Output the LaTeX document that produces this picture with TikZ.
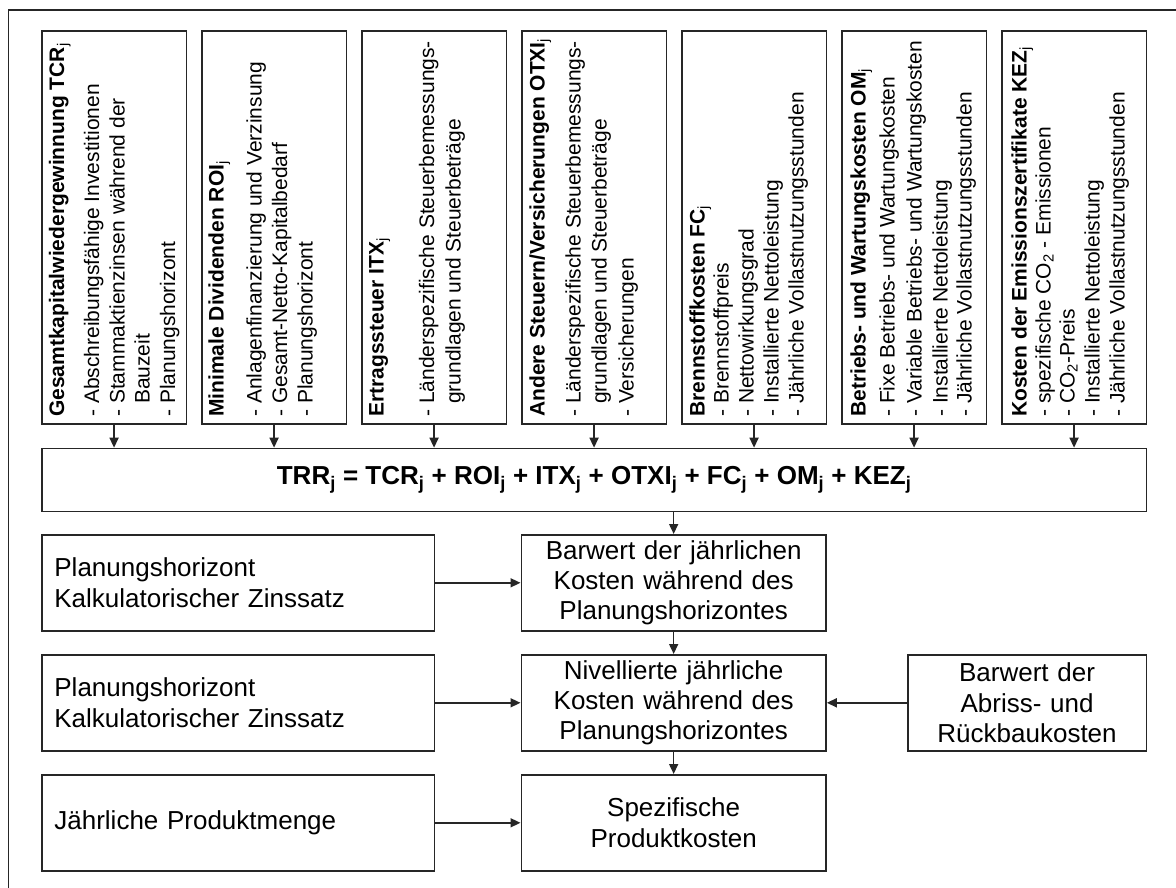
\documentclass[tikz,border=0pt]{standalone}
\usepackage{fontspec}
\setmainfont{Liberation Sans}
\usetikzlibrary{arrows.meta}
\newcommand\jsub{\textsubscript{j}}
\newcommand\jsubm{\textsubscript{\mdseries j}}
\newcommand\cotwo{CO\textsubscript{2}}
\newcommand\hang{\phantom{- }}

\begin{document}
\begin{tikzpicture}[x=1pt,y=-1pt,
  edge/.style={draw=black!85,line width=1.6pt},
  box/.style={edge,inner sep=0pt,anchor=north west},
  topbox/.style={box,minimum width=144.5pt,minimum height=393pt},
  col/.style={rotate=90,anchor=base west,inner sep=0pt,font=\fontsize{21}{25}\selectfont},
  coltitle/.style={col,font=\fontsize{21}{25}\selectfont\bfseries},
  lower/.style={box,font=\fontsize{26}{30.3}\selectfont,minimum height=96pt},
  leftbox/.style={lower,inner xsep=12.6pt,text width=367.4pt,align=left},
  midbox/.style={lower,inner xsep=4pt,text width=296.7pt,align=center},
  rightbox/.style={lower,inner xsep=4pt,text width=230.5pt,align=center},
  arr/.style={draw=black!85,line width=1.6pt,-{Triangle[length=10pt,width=9pt]}}
]
\useasboundingbox (0,0) rectangle (1176,888);

% outer frame (open towards the right and bottom page edge)
\draw[edge] (8.5,888) -- (8.5,10) -- (1176,10);

% cost components
\node[topbox] (tcr)  at (41,30)   {};
\node[topbox] (roi)  at (201,30)  {};
\node[topbox] (itx)  at (361,30)  {};
\node[topbox] (otxi) at (521,30)  {};
\node[topbox] (fc)   at (681,30)  {};
\node[topbox] (om)   at (841,30)  {};
\node[topbox] (kez)  at (1001,30) {};

% TCR
\node[coltitle] (tcr-t) at (64,417)    {Gesamtkapitalwiedergewinnung TCR\jsubm};
\node[col] (tcr-1) at (99,417)    {- Abschreibungsfähige Investitionen};
\node[col] (tcr-2) at (124.5,417) {- Stammaktienzinsen während der};
\node[col] (tcr-3) at (149.5,417) {\hang Bauzeit};
\node[col] (tcr-4) at (175,417)   {- Planungshorizont};
% ROI
\node[coltitle] (roi-t) at (223.5,417) {Minimale Dividenden ROI\jsubm};
\node[col] (roi-1) at (261.5,417) {- Anlagenfinanzierung und Verzinsung};
\node[col] (roi-2) at (287,417)   {- Gesamt-Netto-Kapitalbedarf};
\node[col] (roi-3) at (312.5,417) {- Planungshorizont};
% ITX
\node[coltitle] (itx-t) at (383.5,417) {Ertragssteuer ITX\jsubm};
\node[col] (itx-1) at (434,417)   {- Länderspezifische Steuerbemessungs-};
\node[col] (itx-2) at (460.5,417) {\hang grundlagen und Steuerbeträge};
% OTXI
\node[coltitle] (otxi-t) at (544.5,417) {Andere Steuern/Versicherungen OTXI\jsubm};
\node[col] (otxi-1) at (580.5,417) {- Länderspezifische Steuerbemessungs-};
\node[col] (otxi-2) at (606.5,417) {\hang grundlagen und Steuerbeträge};
\node[col] (otxi-3) at (633.5,417) {- Versicherungen};
% FC
\node[coltitle] (fc-t) at (704.5,417) {Brennstoffkosten FC\jsubm};
\node[col] (fc-1) at (728.5,417) {- Brennstoffpreis};
\node[col] (fc-2) at (753.5,417) {- Nettowirkungsgrad};
\node[col] (fc-3) at (778.5,417) {- Installierte Nettoleistung};
\node[col] (fc-4) at (803.5,417) {- Jährliche Vollastnutzungsstunden};
% OM
\node[coltitle] (om-t) at (865.5,417) {Betriebs- und Wartungskosten OM\jsubm};
\node[col] (om-1) at (894.5,417) {- Fixe Betriebs- und Wartungskosten};
\node[col] (om-2) at (921.5,417) {- Variable Betriebs- und Wartungskosten};
\node[col] (om-3) at (947.5,417) {- Installierte Nettoleistung};
\node[col] (om-4) at (971.5,417) {- Jährliche Vollastnutzungsstunden};
% KEZ
\node[coltitle] (kez-t) at (1026.5,417) {Kosten der Emissionszertifikate KEZ\jsubm};
\node[col] (kez-1) at (1050.5,417) {- spezifische \cotwo{} - Emissionen};
\node[col] (kez-2) at (1074.5,417) {- \cotwo-Preis};
\node[col] (kez-3) at (1099.5,417) {- Installierte Nettoleistung};
\node[col] (kez-4) at (1124.5,417) {- Jährliche Vollastnutzungsstunden};

% total revenue requirement
\node[box,minimum width=1104.7pt,minimum height=63pt,font=\fontsize{26}{30}\selectfont\bfseries] (trr) at (41,447.7)
  {TRR\jsub{} = TCR\jsub{} + ROI\jsub{} + ITX\jsub{} + OTXI\jsub{} + FC\jsub{} + OM\jsub{} + KEZ\jsub};

% inputs
\node[leftbox] (in1) at (41,534) {Planungshorizont\\Kalkulatorischer Zinssatz};
\node[leftbox] (in2) at (41,654) {Planungshorizont\\Kalkulatorischer Zinssatz};
\node[leftbox] (in3) at (41,774) {Jährliche Produktmenge};

% results
\node[midbox] (pv)  at (520.5,534) {Barwert der jährlichen\\Kosten während des\\Planungshorizontes};
\node[midbox] (lev) at (520.5,654) {Nivellierte jährliche\\Kosten während des\\Planungshorizontes};
\node[midbox] (spc) at (520.5,774) {Spezifische\\Produktkosten};

\node[rightbox] (dec) at (907,654) {Barwert der\\Abriss- und\\Rückbaukosten};

% connectors
\foreach \n in {tcr,roi,itx,otxi,fc,om,kez}
  \draw[arr] (\n.south) -- (\n.south |- trr.north);
\draw[arr] (pv.north |- trr.south) -- (pv.north);
\draw[arr] (pv.south) -- (lev.north);
\draw[arr] (lev.south) -- (spc.north);
\draw[arr] (in1.east) -- (pv.west);
\draw[arr] (in2.east) -- (lev.west);
\draw[arr] (in3.east) -- (spc.west);
\draw[arr] (dec.west) -- (lev.east);
\end{tikzpicture}
\end{document}
